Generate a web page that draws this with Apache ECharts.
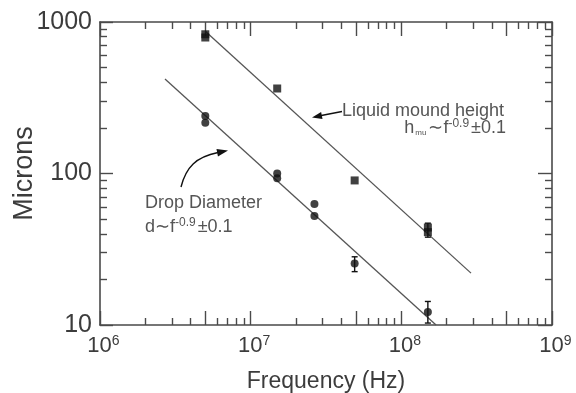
<!DOCTYPE html>
<html>
<head>
<meta charset="utf-8">
<script src="https://cdn.jsdelivr.net/npm/echarts@6/dist/echarts.min.js"></script>
<style>
  html, body { margin: 0; padding: 0; background: #fff; }
  #chart { width: 576px; height: 393px; }
</style>
</head>
<body>
<div id="chart"></div>
<script>
// --- data ---
const moundFreq = [5e6, 5e6, 1.5e7, 4.9e7, 1.5e8, 1.5e8];
const moundHeight = [830, 790, 364, 90, 44, 41];

const dropFreq = [5e6, 5e6, 1.5e7, 1.5e7, 2.65e7, 2.65e7, 4.9e7, 1.5e8];
const dropDiameter = [240, 216, 100, 93, 63, 52.5, 25.5, 12.2];

// error bars: [freq, low, high]
const moundErr = [[1.5e8, 38, 47]];
const dropErr = [[4.9e7, 22.5, 28.2], [1.5e8, 10.3, 14.3]];

// fitted power-law lines (end points)
const moundFitFreq = [5e6, 2.9e8];
const moundFitVal = [870, 22];
const dropFitFreq = [2.7e6, 1.7e8];
const dropFitVal = [420, 10];

const xDecades = [1e6, 1e7, 1e8, 1e9];
const yDecades = [10, 100, 1000];

const FONT = "'Liberation Sans', Arial, Helvetica, sans-serif";
const INK = "#3c3c3c";
const AXIS = "#4a4a4a";

function pairs(xs, ys) {
  return xs.map((x, i) => [x, ys[i]]);
}

// tick marks are drawn on helper value axes that run in exponent space
// (6..9 and 1..3), so they line up exactly with the log axes
const xLong = [];
const xShort = [];
for (let e = 6; e <= 9; e++) {
  for (let m = 1; m <= 9; m++) {
    if (e === 9 && m > 1) break;
    const p = e + Math.log10(m);
    if (m === 1 || m === 5) xLong.push(p);
    else xShort.push(p);
  }
}
const yLong = [1, 2, 3];
const yShort = [];
for (let e = 1; e <= 2; e++) {
  for (let m = 2; m <= 9; m++) yShort.push(e + Math.log10(m));
}

const tickStyle = { color: AXIS, width: 1.4 };
function tickAxis(pos, min, max, len, values) {
  return {
    type: "value",
    min,
    max,
    position: pos,
    splitLine: { show: false },
    axisLine: { show: false },
    axisLabel: { show: false },
    axisTick: { show: true, inside: true, length: len, lineStyle: tickStyle, customValues: values },
  };
}

function renderErrorBar(params, api) {
  const x = api.value(0);
  const top = api.coord([x, api.value(2)]);
  const bot = api.coord([x, api.value(1)]);
  const w = 3;
  const style = { stroke: "#111", lineWidth: 1.4 };
  return {
    type: "group",
    children: [
      { type: "line", shape: { x1: top[0], y1: top[1], x2: bot[0], y2: bot[1] }, style },
      { type: "line", shape: { x1: top[0] - w, y1: top[1], x2: top[0] + w, y2: top[1] }, style },
      { type: "line", shape: { x1: bot[0] - w, y1: bot[1], x2: bot[0] + w, y2: bot[1] }, style },
    ],
  };
}

function arrowHead(tip, from, len, half) {
  const dx = tip[0] - from[0];
  const dy = tip[1] - from[1];
  const d = Math.hypot(dx, dy);
  const ux = dx / d, uy = dy / d;
  const bx = tip[0] - ux * len, by = tip[1] - uy * len;
  return [tip, [bx - uy * half, by + ux * half], [bx + uy * half, by - ux * half]];
}

const chart = echarts.init(document.getElementById("chart"), null, { renderer: "canvas" });

const supStyle = { fontSize: 12, padding: [0, 2, 9, 0], fill: "#555", fontFamily: FONT };

const option = {
  animation: false,
  backgroundColor: "#fff",
  grid: { left: 100, right: 24, top: 22, bottom: 68, outerBoundsMode: "none", containLabel: false },
  xAxis: [
    {
      type: "log",
      logBase: 10,
      min: 1e6,
      max: 1e9,
      position: "bottom",
      splitLine: { show: false },
      axisTick: { show: false },
      axisLine: { show: true, lineStyle: { color: AXIS, width: 1.6 } },
      axisLabel: {
        customValues: xDecades,
        margin: 9,
        color: INK,
        fontFamily: FONT,
        fontSize: 22,
        formatter: (v) => "{p|}10{s|" + Math.round(Math.log10(v)) + "}",
        rich: {
          p: { width: 7 },
          s: { fontSize: 14, verticalAlign: "top", padding: [0, 0, 10, 0], color: INK, fontFamily: FONT },
        },
      },
      name: "Frequency (Hz)",
      nameLocation: "middle",
      nameGap: 45,
      nameMoveOverlap: false,
      nameTextStyle: { color: INK, fontFamily: FONT, fontSize: 23 },
    },
    Object.assign(tickAxis("top", 6, 9, 14, xLong), {
      axisLine: { show: true, lineStyle: { color: AXIS, width: 1.6 } },
    }),
    tickAxis("bottom", 6, 9, 14, xLong),
    tickAxis("bottom", 6, 9, 7, xShort),
    tickAxis("top", 6, 9, 7, xShort),
  ],
  yAxis: [
    {
      type: "log",
      logBase: 10,
      min: 10,
      max: 1000,
      position: "left",
      splitLine: { show: false },
      axisTick: { show: false },
      axisLine: { show: true, lineStyle: { color: AXIS, width: 1.6 } },
      axisLabel: {
        customValues: yDecades,
        margin: 8,
        color: INK,
        fontFamily: FONT,
        fontSize: 25,
        formatter: (v) => String(Math.round(v)),
      },
      name: "Microns",
      nameLocation: "middle",
      nameGap: 62,
      nameMoveOverlap: false,
      nameTextStyle: { color: INK, fontFamily: FONT, fontSize: 27 },
    },
    Object.assign(tickAxis("right", 1, 3, 14, yLong), {
      axisLine: { show: true, lineStyle: { color: AXIS, width: 1.6 } },
    }),
    tickAxis("left", 1, 3, 13, yLong),
    tickAxis("left", 1, 3, 7, yShort),
    tickAxis("right", 1, 3, 7, yShort),
  ],
  series: [
    {
      type: "line",
      data: pairs(moundFitFreq, moundFitVal),
      showSymbol: false,
      lineStyle: { color: "#555", width: 1.3 },
      z: 2,
    },
    {
      type: "line",
      data: pairs(dropFitFreq, dropFitVal),
      showSymbol: false,
      lineStyle: { color: "#555", width: 1.3 },
      z: 2,
    },
    {
      type: "custom",
      renderItem: renderErrorBar,
      data: moundErr.concat(dropErr),
      encode: { x: 0, y: [1, 2] },
      z: 3,
    },
    {
      type: "scatter",
      data: pairs(moundFreq, moundHeight),
      symbol: "rect",
      symbolSize: 8,
      itemStyle: { color: "#111" },
      z: 4,
    },
    {
      type: "scatter",
      data: pairs(dropFreq, dropDiameter),
      symbol: "circle",
      symbolSize: 8,
      itemStyle: { color: "#111" },
      z: 4,
    },
  ],
  graphic: [
    {
      type: "text",
      left: 342,
      top: 102,
      style: { text: "Liquid mound height", fill: "#555", font: "18px " + FONT },
    },
    {
      type: "text",
      right: 70,
      top: 118,
      style: {
        text: "h{sub|mu}\u223Cf{sup|-0.9}\u00B10.1",
        fill: "#555",
        font: "18px " + FONT,
        rich: {
          sub: { fontSize: 8, padding: [8, 2, 0, 1], fill: "#555", fontFamily: FONT },
          sup: supStyle,
        },
      },
    },
    {
      type: "text",
      left: 145,
      top: 194,
      style: { text: "Drop Diameter", fill: "#555", font: "18px " + FONT },
    },
    {
      type: "text",
      left: 145,
      top: 217,
      style: {
        text: "d\u223Cf{sup|-0.9}\u00B10.1",
        fill: "#555",
        font: "18px " + FONT,
        rich: { sup: supStyle },
      },
    },
    {
      type: "line",
      shape: { x1: 342, y1: 111.5, x2: 320, y2: 115.8 },
      style: { stroke: "#111", lineWidth: 1.4 },
    },
    {
      type: "polygon",
      shape: { points: arrowHead([312, 117.5], [342, 111.5], 10, 3.5) },
      style: { fill: "#111" },
    },
    {
      type: "bezierCurve",
      shape: { x1: 181, y1: 187, cpx1: 186, cpy1: 167, cpx2: 196, cpy2: 157, x2: 218, y2: 152.5 },
      style: { stroke: "#111", lineWidth: 1.4, fill: null },
    },
    {
      type: "polygon",
      shape: { points: arrowHead([228, 150.5], [208, 154.5], 11, 3.8) },
      style: { fill: "#111" },
    },
  ],
};

chart.setOption(option);
</script>
</body>
</html>
